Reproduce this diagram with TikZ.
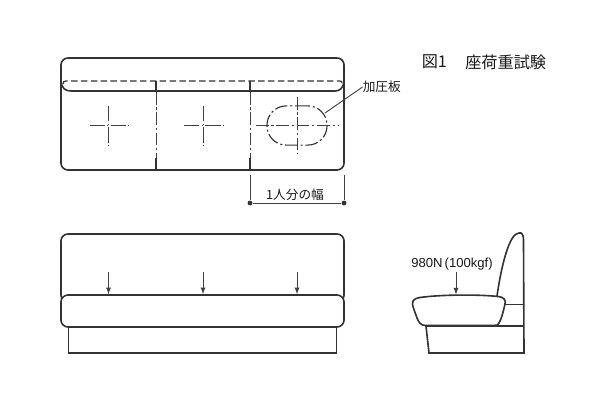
\documentclass[tikz,border=0pt]{standalone}
\usepackage{fontspec}
\setmainfont{Liberation Sans}
\newfontfamily\cjk{Noto Sans CJK JP}
\usetikzlibrary{positioning}
\usetikzlibrary{calc}
\usepackage{xcolor}
\tikzset{
    outline/.style={line width=1.15pt, draw=black!80},
    thin line/.style={line width=.65pt, draw=black!75},
    chain line/.style={thin line, dash pattern=on 9pt off 2pt on 1.5pt off 2pt},
    cross line/.style={thin line, dash pattern=on 11pt off 1.5pt on 1pt off 1.5pt},
    dash line/.style={line width=.8pt, draw=black!80, dash pattern=on 4.6pt off 2.4pt},
    box/.style={outline, fill=white, inner sep=0pt, rounded corners=5pt},
    label/.style={inner sep=0pt, text=black!90, font=\cjk\fontsize{9}{9}\selectfont},
    dimdot/.style={circle, fill=black!80, inner sep=0pt, minimum size=3.4pt}
}

\begin{document}
\begin{tikzpicture}[x=.025cm, y=-.025cm]
    \useasboundingbox (0,0) rectangle (600,400);

    % top view
    \node[box, minimum width=7.075cm, minimum height=2.8cm] (top) at (202.5,114) {};
    \coordinate (seatL) at (61,82);
    \coordinate (seatR) at (344,82);
    \draw[outline] (seatL) .. controls (62,88) and (65,91) .. (71,91) -- (335,91)
        .. controls (340,91) and (343,88) .. (seatR);
    \draw[dash line] (63,84) .. controls (63,82) and (64,81) .. (66,81) -- (340,81)
        .. controls (342,81) and (342,82) .. (342,84);
    \foreach \x in {156,250}
    {
        \coordinate (div\x) at (\x,81);
        \draw[outline] (div\x) -- ++(0,11);
        \draw[chain line] (\x,92) -- (\x,158);
        \draw[outline] (\x,158) -- (\x,170);
    }
    \foreach \x in {108.5,203}
    {
        \draw[cross line] (\x-19,125.5) -- (\x+20,125.5);
        \draw[cross line] (\x,106) -- (\x,145);
    }
    \draw[chain line] (256,125.5) -- (338,125.5);
    \draw[chain line] (297,97) -- (297,154);
    \node[draw=black!80, line width=.8pt, dash pattern=on 9pt off 2pt on 1.5pt off 2pt,
        rounded corners=.48cm, inner sep=0pt, minimum width=1.5cm, minimum height=.98cm] (plate) at (297,125.5) {};

    \node[label, anchor=west] (platelabel) at (362.5,87) {加圧板};
    \coordinate (platetip) at (325,113);
    \draw[thin line] (platelabel.west) -- (platetip);

    % width of one seat
    \node[dimdot] (dimL) at (250,203) {};
    \node[dimdot] (dimR) at (344,203) {};
    \coordinate (tickL) at (250,175);
    \coordinate (tickR) at (344,175);
    \draw[thin line] (tickL) -- (dimL) -- (dimR) -- (tickR);
    \node[label] (widthlabel) at (295,195) {1人分の幅};

    % title
    \node[label, anchor=west, font=\cjk\fontsize{11.5}{12}\selectfont] (titleno) at (421.5,62) {図1};
    \node[label, anchor=west, font=\cjk\fontsize{11.5}{12}\selectfont] (title) at (465,62) {座荷重試験};

    % front view
    \node[box, minimum width=7.075cm, minimum height=1.7cm] (frontback) at (202.5,268) {};
    \draw[outline] (68.5,320) -- (68.5,353) -- (336.5,353) -- (336.5,320);
    \node[box, minimum width=7.075cm, minimum height=.8cm] (frontseat) at (202.5,311) {};
    \foreach \i/\x in {1/108.5,2/203,3/297}
    {
        \coordinate (load\i) at (\x,272);
        \draw[thin line, -latex] (load\i) -- (load\i |- frontseat.north);
    }

    % side view
    \coordinate (backfoot) at (497,296);
    \coordinate (backtop) at (519,233);
    \coordinate (floorR) at (524,353);
    \coordinate (floorL) at (429,353);
    \draw[outline] (backfoot) .. controls (501,268) and (509,233) .. (backtop)
        .. controls (522,232) and (523.5,235) .. (523.5,240) -- (floorR) -- (floorL) -- (426,326);
    \draw[outline] (505,304.5) -- (524,304.5);
    \draw[outline] (425,326) -- (524,326);
    \draw[outline, fill=white] (424,297) .. controls (445,294.5) and (480,294.5) .. (498,296.5)
        .. controls (504,297) and (506,300) .. (505,304)
        .. controls (503,312) and (502,318) .. (499,323)
        .. controls (498,325) and (497,325.5) .. (494,325.5) -- (426,325.5)
        .. controls (421,325.5) and (419,323) .. (417,318)
        .. controls (415,312) and (413,308) .. (412.5,304)
        .. controls (412,299) and (417,297.5) .. (424,297);
    \node[label, font=\fontsize{9.3}{9}\selectfont] (loadlabel) at (452,264.5) {980N\,(100kgf)};
    \coordinate (sideload) at (456,272);
    \coordinate (sidehit) at (456,294.5);
    \draw[thin line, -latex] (sideload) -- (sidehit);
\end{tikzpicture}
\end{document}
